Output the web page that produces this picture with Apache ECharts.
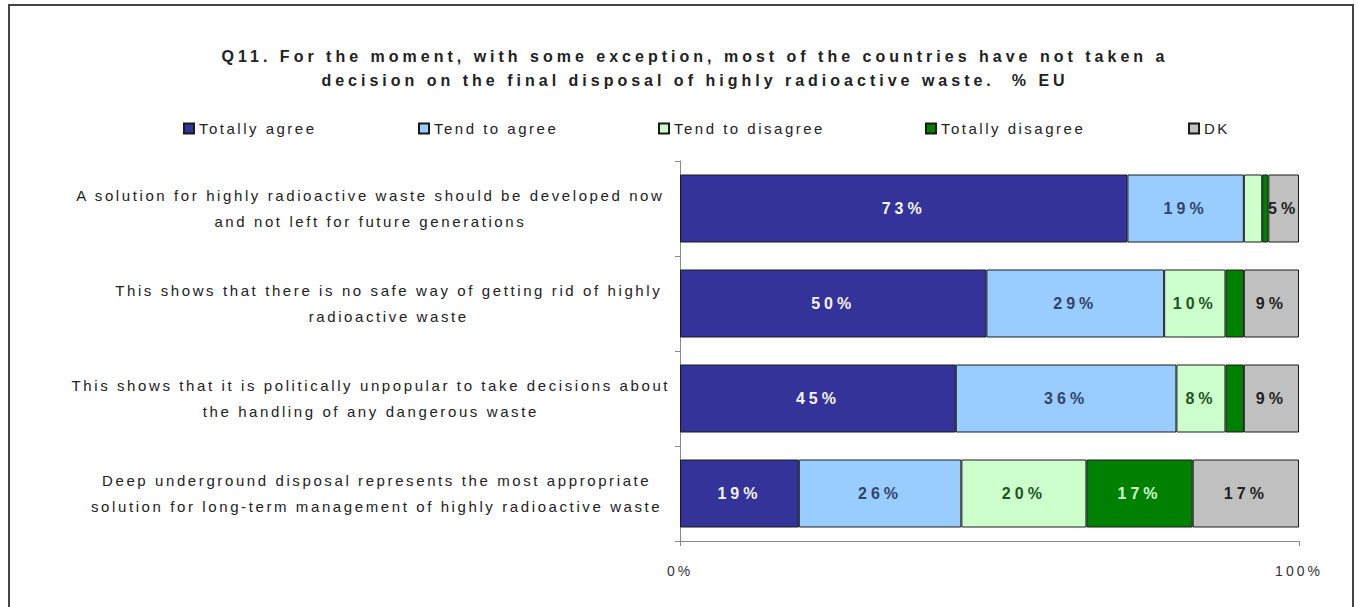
<!DOCTYPE html>
<html>
<head>
<meta charset="utf-8">
<script src="https://cdn.jsdelivr.net/npm/echarts@6/dist/echarts.min.js"></script>
<style>
html, body { margin: 0; padding: 0; background: #ffffff; }
#chart { width: 1358px; height: 607px; }
text[style*="tagTitle"] { letter-spacing: 4px; }
text[style*="tagLeg"] { letter-spacing: 2.5px; }
text[style*="tagCat"] { letter-spacing: 2.6px; }
text[style*="tagBar"] { letter-spacing: 4px; }
text[style*="tagAx"] { letter-spacing: 3px; }
</style>
</head>
<body>
<div id="chart"></div>
<script>
// ---- data ----
const categories = [
  'A solution for highly radioactive waste should be developed now\nand not left for future generations',
  'This shows that there is no safe way of getting rid of highly\nradioactive waste',
  'This shows that it is politically unpopular to take decisions about\nthe handling of any dangerous waste',
  'Deep underground disposal represents the most appropriate\nsolution for long-term management of highly radioactive waste'
];
const seriesNames = ['Totally agree', 'Tend to agree', 'Tend to disagree', 'Totally disagree', 'DK'];
const totallyAgree = [73, 50, 45, 19];
const tendToAgree = [19, 29, 36, 26];
const tendToDisagree = [3, 10, 8, 20];
const totallyDisagree = [1, 3, 3, 17];
const dontKnow = [5, 9, 9, 17];
const xTickValues = [0, 100];
const titleText = 'Q11. For the moment, with some exception, most of the countries have not taken a\ndecision on the final disposal of highly radioactive waste.  % EU';

// ---- 100% stacking (bar length = share of row total, label = answer %) ----
const seriesValues = [totallyAgree, tendToAgree, tendToDisagree, totallyDisagree, dontKnow];
const rowTotals = categories.map((_, r) => seriesValues.reduce((s, arr) => s + arr[r], 0));

// ---- styling ----
const barColors = ['#333399', '#99CCFF', '#CCFFCC', '#008000', '#C0C0C0'];
const labelColors = ['#f4f4ff', '#334466', '#225522', '#CCFFCC', '#222222'];
const legendLeft = [183, 418, 658, 925, 1188];

const chart = echarts.init(document.getElementById('chart'), null, { renderer: 'svg' });

const option = {
  animation: false,
  backgroundColor: '#ffffff',
  title: {
    text: titleText,
    left: 695,
    top: 44,
    padding: 0,
    textAlign: 'center',
    textStyle: {
      fontFamily: 'Liberation Sans, tagTitle',
      fontSize: 16,
      fontWeight: 'bold',
      color: '#222222',
      lineHeight: 24
    }
  },
  legend: seriesNames.map((n, i) => ({
    data: [n],
    left: legendLeft[i],
    top: 121,
    padding: 0,
    icon: 'rect',
    itemWidth: 10,
    itemHeight: 10,
    selectedMode: false,
    textStyle: { fontFamily: 'Liberation Sans, tagLeg', fontSize: 15, color: '#222222', lineHeight: 15 }
  })),
  grid: { left: 680, right: 59, top: 161, bottom: 66, outerBoundsMode: 'none', containLabel: false },
  xAxis: {
    type: 'value',
    min: xTickValues[0],
    max: xTickValues[xTickValues.length - 1],
    interval: 100,
    splitLine: { show: false },
    axisLine: { show: true, lineStyle: { color: '#888888', width: 1 } },
    axisTick: { show: true, length: 5, lineStyle: { color: '#888888' } },
    axisLabel: {
      formatter: '{value}%',
      fontFamily: 'Liberation Sans, tagAx',
      fontSize: 14,
      color: '#333333',
      margin: 23
    }
  },
  yAxis: {
    type: 'category',
    data: categories,
    inverse: true,
    axisLine: { show: true, lineStyle: { color: '#888888', width: 1 } },
    axisTick: { show: true, length: 5, lineStyle: { color: '#888888' } },
    axisLabel: {
      margin: 97,
      formatter: v => v.split('\n').map(l => '{c|' + l + '}').join('\n'),
      rich: {
        c: {
          align: 'center',
          fontFamily: 'Liberation Sans, tagCat',
          fontSize: 15,
          color: '#222222',
          lineHeight: 26
        }
      }
    }
  },
  series: seriesNames.map((n, i) => ({
    name: n,
    type: 'bar',
    stack: 'total',
    barWidth: 68,
    data: seriesValues[i].map((v, r) => v / rowTotals[r] * 100),
    itemStyle: { color: barColors[i], borderColor: '#1a1a1a', borderWidth: 1 },
    label: {
      show: true,
      position: 'inside',
      formatter: p => {
        const raw = seriesValues[i][p.dataIndex];
        return raw >= 4 ? raw + '%' : '';
      },
      color: labelColors[i],
      fontFamily: 'Liberation Sans, tagBar',
      fontWeight: 'bold',
      fontSize: 16
    }
  })),
  graphic: [{
    type: 'rect',
    silent: true,
    shape: { x: 9, y: 5, width: 1344, height: 640 },
    style: { fill: 'none', stroke: '#444444', lineWidth: 2 }
  }]
};

chart.setOption(option);
</script>
</body>
</html>
